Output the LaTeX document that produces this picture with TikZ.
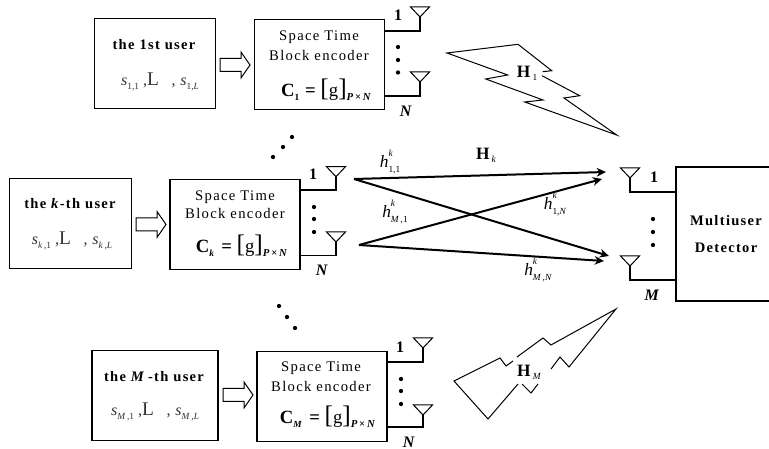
\documentclass[tikz,border=0pt]{standalone}
\usepackage{fontspec}
\usetikzlibrary{arrows.meta}
\setmainfont{Liberation Serif}
\newfontfamily\spreadreg[LetterSpace=9]{Liberation Serif}
\newfontfamily\spreadbold[LetterSpace=9]{Liberation Serif Bold}
\newcommand{\ssize}{\fontsize{7}{7}\selectfont}
\newcommand{\lowtxt}[1]{\raisebox{-0.5ex}{\ssize #1}}
\newcommand{\lowertxt}[1]{\raisebox{-0.9ex}{\ssize #1}}
\newcommand{\hightxt}[1]{\raisebox{1.75ex}{\ssize #1}}
\newcommand{\chan}[2]{{\fontsize{13}{13}\selectfont\textit{h}}\rlap{\hightxt{\textit{k}}}\lowertxt{#2}}
\newcommand{\symb}[3]{{\color{black!80}\fontsize{12}{12}\selectfont\textit{s}\lowtxt{#1}\hspace{0.25em},{\fontsize{14.5}{14}\selectfont L}\hspace{0.8em},\hspace{0.3em}\textit{s}\lowtxt{#2}}}
\newcommand{\code}[2]{{\fontsize{14}{14}\selectfont\textbf{C}}\lowtxt{\textbf{#1}}#2{\fontsize{14}{14}\selectfont\hspace{0.2em}\textbf{=}\hspace{0.25em}{\fontsize{19}{19}\selectfont[}\raisebox{0.05ex}{g}{\fontsize{19}{19}\selectfont]}}\lowtxt{\fontsize{8}{8}\selectfont\textbf{\textit{P}\,×\,\textit{N}}}}
\tikzset{
  x=0.75pt,y=-0.75pt,
  usercell/.style={draw,line width=0.85pt,minimum width=91pt,minimum height=67pt,inner sep=0pt},
  enccell/.style={draw,line width=0.85pt,minimum width=97.5pt,minimum height=67pt,inner sep=0pt},
  head/.style={inner sep=0pt,font=\spreadbold\fontsize{10.9}{12}\selectfont},
  plainlab/.style={inner sep=0pt,font=\spreadreg\fontsize{11}{12}\selectfont},
  mathlab/.style={inner sep=0pt,font=\fontsize{10}{12}\selectfont},
  boldlab/.style={inner sep=0pt,font=\bfseries\fontsize{12}{12}\selectfont},
  wire/.style={line width=0.85pt},
  antenna/.style={line width=0.75pt,line join=miter},
  link/.style={line width=1.5pt,-{Stealth[length=7pt,width=6.5pt]}},
  hollow/.style={line width=0.75pt},
  bolt/.style={line width=0.75pt,line join=miter},
  dot/.style={circle,fill=black,inner sep=0pt,minimum size=3.2pt},
}
\newcommand{\aerial}[3]{% name, x, top y
  \draw[antenna] (#2-9.5,#3) -- (#2+9.5,#3) -- (#2,#3+10) coordinate (#1) -- cycle;}
\newcommand{\fatarrow}[3]{% left x, head start x, mid y
  \draw[hollow] (#1,#3-6.5) -- (#2,#3-6.5) -- (#2,#3-13) -- (#2+9,#3) -- (#2,#3+13) -- (#2,#3+6.5) -- (#1,#3+6.5) -- cycle;}
\begin{document}
\begin{tikzpicture}
\useasboundingbox (0,0) rectangle (769,449);
\fill[white] (0,0) rectangle (769,449);

% top user
\node[usercell] (u1) at (155,63.5) {};
\node[head] (u1t) at (154,45) {the 1st user};
\node[mathlab] (u1s) at (160,82) {\symb{1,1}{1,\textit{L}}{}};
\node[enccell] (e1) at (319.5,64.5) {};
\node[plainlab] (e1a) at (319,37) {Space Time};
\node[plainlab] (e1b) at (319,55) {Block encoder};
\node[mathlab] (e1c) at (326,90) {\code{1}{\,}};
\fatarrow{220}{241}{65}
\aerial{a1u}{420}{7}
\aerial{a1d}{420}{72}
\coordinate (w1u) at (384,31);
\coordinate (w1d) at (384,96);
\draw[wire] (w1u) -| (a1u);
\draw[wire] (w1d) -| (a1d);
\node[boldlab] (l1u) at (398,15) {1};
\node[boldlab] (l1d) at (406,111) {\textit{N}};
\node[dot] (d1a) at (398,47) {};
\node[dot] (d1b) at (398,60) {};
\node[dot] (d1c) at (398,72.5) {};

% between top and middle
\node[dot] (g1a) at (292,137) {};
\node[dot] (g1b) at (283,147) {};
\node[dot] (g1c) at (273,157) {};

% middle user
\node[usercell] (uk) at (70.5,223.5) {};
\node[head] (ukt) at (70,204) {the \textit{k}-th user};
\node[mathlab] (uks) at (72,241) {\symb{\textit{k}\,,1}{\textit{k}\,,\textit{L}}{}};
\node[enccell] (ek) at (235,224.5) {};
\node[plainlab] (eka) at (235,197) {Space Time};
\node[plainlab] (ekb) at (235,213) {Block encoder};
\node[mathlab] (ekc) at (241.5,246) {\code{\textit{k}}{\;}};
\fatarrow{136}{157}{224.5}
\aerial{aku}{336}{166.7}
\aerial{akd}{336}{232}
\coordinate (wku) at (300,190);
\coordinate (wkd) at (300,255.5);
\draw[wire] (wku) -| (aku);
\draw[wire] (wkd) -| (akd);
\node[boldlab] (lku) at (313,174) {1};
\node[boldlab] (lkd) at (322,270) {\textit{N}};
\node[dot] (dka) at (314,207) {};
\node[dot] (dkb) at (314,219) {};
\node[dot] (dkc) at (314,232) {};

% between middle and bottom
\node[dot] (g2a) at (279,306) {};
\node[dot] (g2b) at (287,317) {};
\node[dot] (g2c) at (295,328) {};

% bottom user
\node[usercell,minimum width=94.5pt] (um) at (155,395.5) {};
\node[head] (umt) at (154,377) {the \textit{M}\,-th user};
\node[mathlab] (ums) at (155,412) {\symb{\textit{M}\,,1}{\textit{M}\,,\textit{L}}{}};
\node[enccell] (em) at (322,396.5) {};
\node[plainlab] (ema) at (321,368) {Space Time};
\node[plainlab] (emb) at (321,386) {Block encoder};
\node[mathlab] (emc) at (327.5,417) {\code{\textit{M}}{\;}};
\fatarrow{223}{244}{395}
\aerial{amu}{423}{338}
\aerial{amd}{423}{405}
\coordinate (wmu) at (387,362);
\coordinate (wmd) at (387,427);
\draw[wire] (wmu) -| (amu);
\draw[wire] (wmd) -| (amd);
\node[boldlab] (lmu) at (400,347) {1};
\node[boldlab] (lmd) at (409,442) {\textit{N}};
\node[dot] (dma) at (401,379) {};
\node[dot] (dmb) at (401,391) {};
\node[dot] (dmc) at (401,404) {};

% multiuser detector (runs off the right edge)
\coordinate (dtl) at (676,167);
\coordinate (dbl) at (676,301);
\draw[wire] (770,167) -- (dtl) -- (dbl) -- (770,301);
\node[head] (dt1) at (726,221) {Multiuser};
\node[head] (dt2) at (726,248) {Detector};
\aerial{ru}{630}{168}
\aerial{rd}{630}{256}
\coordinate (wru) at (676,192);
\coordinate (wrd) at (676,280);
\draw[wire] (wru) -| (ru);
\draw[wire] (wrd) -| (rd);
\node[boldlab] (lru) at (654,177) {1};
\node[boldlab] (lrd) at (652,295) {\textit{M}};
\node[dot] (dra) at (653,219) {};
\node[dot] (drb) at (653,232) {};
\node[dot] (drc) at (653,245) {};

% channel links
\coordinate (ta) at (354,179);
\coordinate (tb) at (359,245);
\coordinate (ra) at (606,172);
\coordinate (rb) at (602,179);
\coordinate (rc) at (609,256);
\coordinate (rd2) at (604,261);
\draw[link] (ta) -- (ra);
\draw[link] (ta) -- (rc);
\draw[link] (tb) -- (rb);
\draw[link] (tb) -- (rd2);
\node[mathlab] (h11) at (390,162) {\chan{}{1,1}};
\node[mathlab] (hm1) at (395,212) {\chan{}{\textit{M}\,,1}};
\node[mathlab] (h1n) at (555,204) {\chan{}{1,\textit{N}}};
\node[mathlab] (hmn) at (538,270) {\chan{}{\textit{M}\,,\textit{N}}};
\node[mathlab] (hk) at (486,155) {{\fontsize{13}{13}\selectfont\textbf{H}}\,\lowtxt{\textit{k}}};

% lightning bolts
\draw[bolt] (542.7,71.7) -- (551.7,70.7) -- (518,44.3) -- (447,53) -- (507.7,75) -- (485.7,79) -- (543,100) -- (524.7,102) -- (616.7,135) -- (564,98) -- (579.7,95.7) -- (542,75.7);
\node[mathlab] (h1) at (527,73) {{\fontsize{13}{13}\selectfont\textbf{H}}\,\lowtxt{1}};
\draw[bolt] (513,361) -- (506,366) -- (500,358) -- (454,381) -- (488,419) -- (518,384);
\draw[bolt] (522,384) -- (531,393) -- (538,384);
\draw[bolt] (551,369) -- (560,357) -- (569,367) -- (616,309) -- (551,345) -- (543,338) -- (517,357);
\node[mathlab] (hm) at (529,372) {{\fontsize{13}{13}\selectfont\textbf{H}}\,\lowtxt{\textit{M}}};
\end{tikzpicture}
\end{document}
